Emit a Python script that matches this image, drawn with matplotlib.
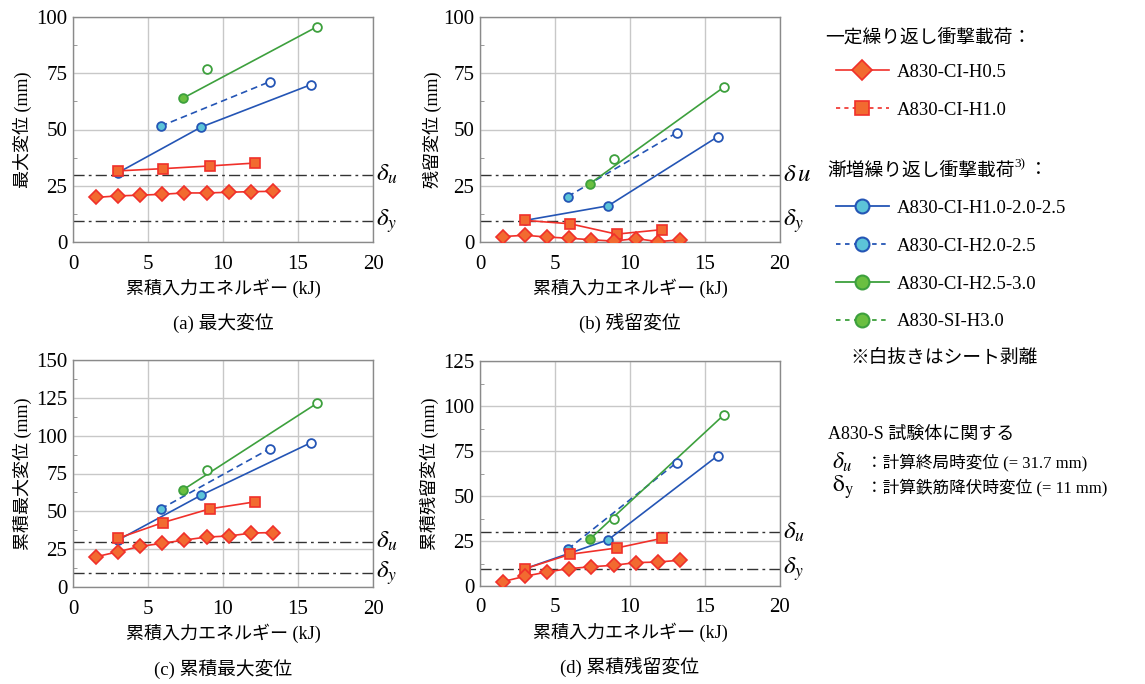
import matplotlib
matplotlib.use('Agg')
import matplotlib.pyplot as plt
from matplotlib.lines import Line2D
from matplotlib.ticker import MultipleLocator

plt.rcParams['font.family'] = ['Liberation Serif', 'Noto Sans CJK JP', 'DejaVu Sans']
plt.rcParams['mathtext.fontset'] = 'stix'

# x positions (cumulative input energy, kJ)
x_h05 = [1.5, 3.0, 4.45, 5.9, 7.4, 8.9, 10.4, 11.85, 13.3]
x_h10 = [3.0, 6.0, 9.1, 12.15]
x_h1 = [3.0, 8.55, 15.85]
x_h2 = [5.85, 13.1]
x_h25 = [7.3, 16.25]
x_si = [8.9]

# open marker = sheet debonding
open_h1 = [False, False, True]
open_h2 = [False, True]
open_h25 = [False, True]
open_si = [True]

# (a) max displacement
a_h05 = [19.8, 20.5, 20.8, 21.2, 21.8, 21.8, 22.1, 22.4, 22.5]
a_h10 = [31.6, 32.6, 33.8, 35.1]
a_h1 = [30.8, 51.1, 69.9]
a_h2 = [51.5, 71.2]
a_h25 = [63.8, 95.6]
a_si = [77.1]

# (b) residual displacement
b_h05 = [2.4, 3.0, 2.2, 1.7, 1.0, 0.4, 1.5, 0.2, 0.9]
b_h10 = [9.6, 8.1, 3.5, 5.5]
b_h1 = [9.6, 16.1, 46.8]
b_h2 = [20.2, 48.5]
b_h25 = [25.8, 68.8]
b_si = [37.0]

# (c) cumulative max displacement
c_h05 = [19.9, 23.3, 26.8, 28.8, 31.0, 33.0, 33.7, 35.6, 36.0]
c_h10 = [32.2, 42.6, 51.6, 56.3]
c_h1 = [31.0, 60.7, 95.3]
c_h2 = [51.6, 91.3]
c_h25 = [64.0, 121.3]
c_si = [77.2]

# (d) cumulative residual displacement
d_h05 = [2.4, 5.4, 7.8, 9.6, 10.7, 11.5, 13.0, 13.3, 14.3]
d_h10 = [9.6, 17.6, 21.1, 26.5]
d_h1 = [9.6, 25.7, 72.4]
d_h2 = [20.4, 68.5]
d_h25 = [25.9, 95.0]
d_si = [37.2]

delta_u = 30.0
delta_y = 9.5

RED_L = '#F0302A'
RED_F = '#F26A30'
BLUE_L = '#2455B5'
CYAN_F = '#5CC4D8'
GREEN_L = '#3DA03D'
GREEN_F = '#6ABF40'

fig = plt.figure(figsize=(11.45, 6.84), dpi=100)
W, H = 1145, 684


def add_ax(l, t, r, b):
    return fig.add_axes([l / W, 1 - b / H, (r - l) / W, (b - t) / H])


def circles(ax, xs, ys, hollow, lc, fc, ls):
    ax.plot(xs, ys, color=lc, lw=1.2, ls=ls, zorder=3)
    for x, y, h in zip(xs, ys, hollow):
        ax.plot(x, y, 'o', ms=6.3, mec=lc, mew=1.3, mfc='white' if h else fc, zorder=4)


panels = [
    (add_ax(73, 17, 373, 242), 100, '最大変位 (mm)', '(a) 最大変位',
     (a_h05, a_h10, a_h1, a_h2, a_h25, a_si), r'$\delta_u$', -0.17),
    (add_ax(480, 17, 780, 242), 100, '残留変位 (mm)', '(b) 残留変位',
     (b_h05, b_h10, b_h1, b_h2, b_h25, b_si), r'$\delta\,u$', -0.16),
    (add_ax(73, 360, 373, 587), 150, '累積最大変位 (mm)', '(c) 累積最大変位',
     (c_h05, c_h10, c_h1, c_h2, c_h25, c_si), r'$\delta_u$', -0.17),
    (add_ax(480, 361, 780, 586), 125, '累積残留変位 (mm)', '(d) 累積残留変位',
     (d_h05, d_h10, d_h1, d_h2, d_h25, d_si), r'$\delta_u$', -0.17),
]

for ax, ymax, ylab, cap, vals, du_lab, ylx in panels:
    h05, h10, h1, h2, h25, si = vals
    ax.set_xlim(0, 20)
    ax.set_ylim(0, ymax)
    ax.xaxis.set_major_locator(MultipleLocator(5))
    ax.yaxis.set_major_locator(MultipleLocator(25))
    ax.yaxis.set_minor_locator(MultipleLocator(12.5))
    ax.grid(True, color='#C8C8C8', lw=1.0, zorder=0)
    ax.set_axisbelow(True)
    for s in ax.spines.values():
        s.set_color('#8A8A8A')
        s.set_linewidth(1.0)
    ax.tick_params(which='major', direction='in', length=0, labelsize=15)
    ax.tick_params(axis='x', pad=9)
    ax.tick_params(axis='y', pad=4)
    ax.tick_params(which='minor', direction='in', length=3, color='#8A8A8A')

    # calculated ultimate / yield displacement lines
    ax.axhline(delta_u, color='#333333', lw=1.0, ls=(0, (8, 3, 2, 3)), zorder=2)
    ax.axhline(delta_y, color='#333333', lw=1.0, ls=(0, (8, 3, 2, 3)), zorder=2)
    ax.text(20.2, delta_u, du_lab, fontsize=18, va='center', ha='left', clip_on=False)
    ax.text(20.2, delta_y, r'$\delta_y$', fontsize=18, va='center', ha='left', clip_on=False)

    circles(ax, x_h1, h1, open_h1, BLUE_L, CYAN_F, '-')
    circles(ax, x_h2, h2, open_h2, BLUE_L, CYAN_F, (0, (4, 2.5)))
    circles(ax, x_h25, h25, open_h25, GREEN_L, GREEN_F, '-')
    circles(ax, x_si, si, open_si, GREEN_L, GREEN_F, ':')
    ax.plot(x_h10, h10, color=RED_L, lw=1.2, marker='s', ms=6.8, mfc=RED_F, mec=RED_L, mew=1.2, zorder=5)
    ax.plot(x_h05, h05, color=RED_L, lw=1.2, marker='D', ms=6.8, mfc=RED_F, mec=RED_L, mew=1.2, zorder=5)

    ax.set_xlabel('累積入力エネルギー (kJ)', fontsize=13, va='center')
    ax.xaxis.set_label_coords(0.5, -0.205)
    ax.set_ylabel(ylab, fontsize=13, va='center')
    ax.yaxis.set_label_coords(ylx, 0.5)
    ax.text(0.5, -0.36, cap, fontsize=13.5, ha='center', va='center', transform=ax.transAxes)

# legend area
lax = fig.add_axes([0.70, 0.0, 0.30, 1.0])
lax.axis('off')

h_const = [
    Line2D([], [], color=RED_L, lw=1.2, marker='D', ms=10, mfc=RED_F, mec=RED_L, mew=1.2),
    Line2D([], [], color=RED_L, lw=1.2, ls=(0, (2.5, 2.5)), marker='s', ms=9.5, mfc=RED_F, mec=RED_L, mew=1.2),
]
l_const = ['A830-CI-H0.5', 'A830-CI-H1.0']
h_inc = [
    Line2D([], [], color=BLUE_L, lw=1.3, marker='o', ms=10, mfc=CYAN_F, mec=BLUE_L, mew=1.5),
    Line2D([], [], color=BLUE_L, lw=1.3, ls=(0, (2.5, 2.5)), marker='o', ms=10, mfc=CYAN_F, mec=BLUE_L, mew=1.5),
    Line2D([], [], color=GREEN_L, lw=1.3, marker='o', ms=10, mfc=GREEN_F, mec=GREEN_L, mew=1.5),
    Line2D([], [], color=GREEN_L, lw=1.3, ls=(0, (2.5, 2.5)), marker='o', ms=10, mfc=GREEN_F, mec=GREEN_L, mew=1.5),
]
l_inc = ['A830-CI-H1.0-2.0-2.5', 'A830-CI-H2.0-2.5', 'A830-CI-H2.5-3.0', 'A830-SI-H3.0']

leg_kw = dict(loc='center left', bbox_transform=fig.transFigure, frameon=False,
              fontsize=13.5, borderpad=0, handlelength=2.8, handletextpad=0.45,
              labelspacing=1.11, borderaxespad=0)
leg1 = lax.legend(h_const, l_const, bbox_to_anchor=(836 / W, 1 - 91 / H), **leg_kw)
lax.add_artist(leg1)
lax.legend(h_inc, l_inc, bbox_to_anchor=(836 / W, 1 - 265 / H), **leg_kw)

fig.text(825 / W, 1 - 38 / H, '一定繰り返し衝撃載荷：', fontsize=13.5, va='center', ha='left')
fig.text(827 / W, 1 - 171 / H, '漸増繰り返し衝撃載荷', fontsize=13.5, va='center', ha='left')
fig.text(1014 / W, 1 - 164 / H, '3)', fontsize=9.5, va='center', ha='left')
fig.text(1029 / W, 1 - 171 / H, '：', fontsize=13.5, va='center', ha='left')
fig.text(850 / W, 1 - 358 / H, '※白抜きはシート剥離', fontsize=13.5, va='center', ha='left')
fig.text(828 / W, 1 - 434 / H, 'A830-S 試験体に関する', fontsize=13, va='center', ha='left')
fig.text(832 / W, 1 - 462 / H, r'$\delta_u$', fontsize=17, va='center', ha='left')
fig.text(866 / W, 1 - 462 / H, '：計算終局時変位 (= 31.7 mm)', fontsize=12, va='center', ha='left')
fig.text(832 / W, 1 - 487 / H, r'$\mathrm{\delta_y}$', fontsize=17, va='center', ha='left')
fig.text(866 / W, 1 - 487 / H, '：計算鉄筋降伏時変位 (= 11 mm)', fontsize=12, va='center', ha='left')

fig.savefig('out.png', dpi=100)
